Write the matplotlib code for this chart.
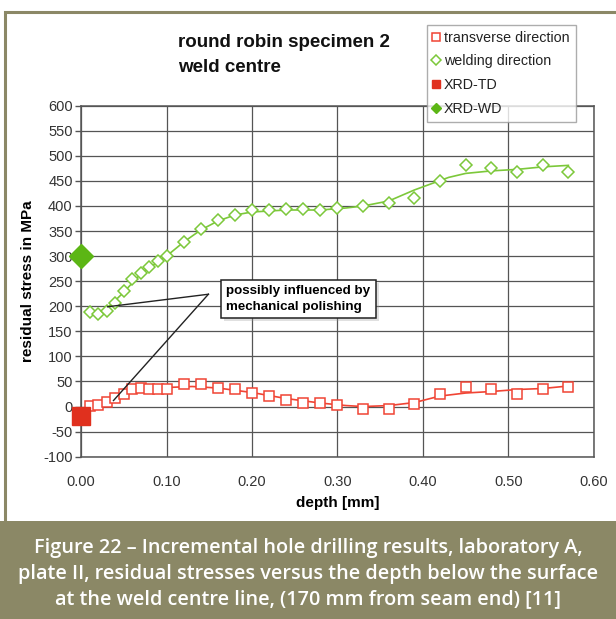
import numpy as np
import matplotlib
matplotlib.use("Agg")
import matplotlib.pyplot as plt
import matplotlib.patheffects as pe
from matplotlib.patches import Rectangle
from matplotlib.lines import Line2D

## Measured points (hole drilling)
depth_td = [0.01, 0.02, 0.03, 0.04, 0.05, 0.06, 0.07, 0.08, 0.09, 0.10, 0.12, 0.14, 0.16, 0.18,
            0.20, 0.22, 0.24, 0.26, 0.28, 0.30, 0.33, 0.36, 0.39, 0.42, 0.45, 0.48, 0.51, 0.54, 0.57]
stress_td = [1, 3, 10, 17, 26, 35, 38, 35, 35, 35, 44, 44, 38, 35,
             28, 21, 14, 7, 8, 4, -4, -4, 5, 26, 40, 35, 26, 35, 40]

depth_wd = [0.01, 0.02, 0.03, 0.04, 0.05, 0.06, 0.07, 0.08, 0.09, 0.10, 0.12, 0.14, 0.16, 0.18,
            0.20, 0.22, 0.24, 0.26, 0.28, 0.30, 0.33, 0.36, 0.39, 0.42, 0.45, 0.48, 0.51, 0.54, 0.57]
stress_wd = [189, 184, 190, 207, 231, 254, 267, 279, 290, 301, 328, 354, 372, 383,
             392, 392, 394, 394, 392, 395, 400, 405, 415, 450, 482, 475, 468, 482, 468]

## Smoothed trend lines
fit_td_x = [0.01, 0.03, 0.05, 0.07, 0.10, 0.13, 0.16, 0.20, 0.24, 0.28, 0.31, 0.33, 0.36,
            0.39, 0.42, 0.45, 0.48, 0.51, 0.54, 0.57]
fit_td_y = [0, 10, 25, 34, 38, 40, 37, 28, 16, 7, 2, 0, 2, 8, 21, 27, 30, 34, 36, 41]

fit_wd_x = [0.01, 0.02, 0.03, 0.05, 0.07, 0.10, 0.12, 0.14, 0.16, 0.18, 0.20, 0.24, 0.28,
            0.31, 0.33, 0.36, 0.39, 0.43, 0.45, 0.48, 0.51, 0.54, 0.57]
fit_wd_y = [188, 188, 195, 228, 265, 300, 328, 352, 370, 382, 388, 392, 392,
            396, 400, 410, 432, 457, 465, 470, 473, 478, 481]

## XRD surface values
xrd_depth = [0.0]
xrd_td = [-19]
xrd_wd = [300]

x_ticks = [0.0, 0.1, 0.2, 0.3, 0.4, 0.5, 0.6]
y_ticks = list(range(-100, 601, 50))

series_names = ["transverse direction", "welding direction", "XRD-TD", "XRD-WD"]
title = "round robin specimen 2\nweld centre"
note = "possibly influenced by\nmechanical polishing"
caption = ["Figure 22 \u2013 Incremental hole drilling results, laboratory A,",
           "plate II, residual stresses versus the depth below the surface",
           "at the weld centre line, (170 mm from seam end) [11]"]

RED = "#f04434"
RED_DARK = "#e0301e"
GREEN = "#7cc83a"
GREEN_DARK = "#5cb615"
OLIVE = "#8b8866"

plt.rcParams["font.family"] = ["Liberation Sans", "DejaVu Sans"]
plt.rcParams["axes.unicode_minus"] = False

fig = plt.figure(figsize=(6.16, 6.19), dpi=100)

## Outer frame and caption band
fig.patches.append(Rectangle((5 / 616, 0), 1.0, (619 - 12) / 619, transform=fig.transFigure,
                             facecolor="none", edgecolor=OLIVE, linewidth=2.2, zorder=0))
fig.patches.append(Rectangle((0, 0), 1, (619 - 521) / 619, transform=fig.transFigure,
                             facecolor=OLIVE, edgecolor="none", zorder=1))
for i, line in enumerate(caption):
    fig.text(0.5, 1 - (548 + 25.5 * i) / 619, line, ha="center", va="center", color="white",
             fontsize=14.3, family=["Open Sans", "Roboto"], fontweight="semibold")

ax = fig.add_axes([81 / 616, 1 - 456.7 / 619, (594 - 81) / 616, (456.7 - 105.7) / 619])

## Lines and markers
ax.plot(fit_td_x, fit_td_y, color=RED, linewidth=1.2, zorder=3)
ax.plot(fit_wd_x, fit_wd_y, color=GREEN, linewidth=1.2, zorder=3)
ax.plot(depth_td, stress_td, linestyle="none", marker="s", markersize=7, markerfacecolor="white",
        markeredgecolor=RED, markeredgewidth=1.1, zorder=4)
ax.plot(depth_wd, stress_wd, linestyle="none", marker="D", markersize=6.5, markerfacecolor="white",
        markeredgecolor=GREEN, markeredgewidth=1.1, zorder=4)
ax.plot(xrd_depth, xrd_td, linestyle="none", marker="s", markersize=13, color=RED_DARK,
        zorder=5, clip_on=False)
ax.plot(xrd_depth, xrd_wd, linestyle="none", marker="D", markersize=12, color=GREEN_DARK,
        zorder=5, clip_on=False)

ax.set_xlim(0, 0.6)
ax.set_ylim(-100, 600)
ax.set_xticks(x_ticks)
ax.set_xticklabels([f"{v:.2f}" for v in x_ticks])
ax.set_yticks(y_ticks)
ax.grid(True, color="#555555", linewidth=0.9)
ax.set_axisbelow(True)
for side in ax.spines.values():
    side.set_color("#555555")
    side.set_linewidth(1.1)
ax.tick_params(axis="y", length=4, width=1, color="#555555", labelsize=10.5, labelcolor="#333333", pad=2)
ax.tick_params(axis="x", length=0, labelsize=10.5, labelcolor="#333333", pad=13)
ax.set_xlabel("depth [mm]", fontsize=11, fontweight="bold", labelpad=5)
ax.set_ylabel("residual stress in MPa", fontsize=11, fontweight="bold", labelpad=6)

## Title
fig.text(178 / 616, 1 - 55 / 619, title, ha="left", va="center", fontsize=13.5,
         fontweight="bold", linespacing=1.6, color="#111111")

## Annotation with leader lines
txt = ax.text(0.17, 214, note, ha="left", va="center", fontsize=9.6, fontweight="bold",
              linespacing=1.4, zorder=6,
              bbox=dict(boxstyle="square,pad=0.4", facecolor="white", edgecolor="#222222", linewidth=1.1))
txt.get_bbox_patch().set_path_effects([pe.SimplePatchShadow(offset=(2, -2), shadow_rgbFace="#999999"),
                                       pe.Normal()])
ax.plot([0.149, 0.031], [224, 199], color="#222222", linewidth=1.0, zorder=6)
ax.plot([0.149, 0.038], [224, 12], color="#222222", linewidth=1.0, zorder=6)

## Legend with small markers
handles = [
    Line2D([], [], linestyle="none", marker="s", markersize=6, markerfacecolor="white",
           markeredgecolor=RED, markeredgewidth=1.1),
    Line2D([], [], linestyle="none", marker="D", markersize=5, markerfacecolor="white",
           markeredgecolor=GREEN, markeredgewidth=1.1),
    Line2D([], [], linestyle="none", marker="s", markersize=6, color=RED_DARK),
    Line2D([], [], linestyle="none", marker="D", markersize=5, color=GREEN_DARK),
]
leg = fig.legend(handles, series_names, loc="upper left", bbox_to_anchor=(427 / 616, 1 - 25 / 619),
                 fontsize=10.3, frameon=True, fancybox=False, shadow=False, handlelength=0.5,
                 handletextpad=0.3, borderpad=0.4, labelspacing=0.68, borderaxespad=0)
leg.get_frame().set_edgecolor("#999999")
leg.get_frame().set_linewidth(1.0)
leg.set_zorder(10)
for t in leg.get_texts():
    t.set_color("#222222")

fig.savefig("out.png", dpi=100)
